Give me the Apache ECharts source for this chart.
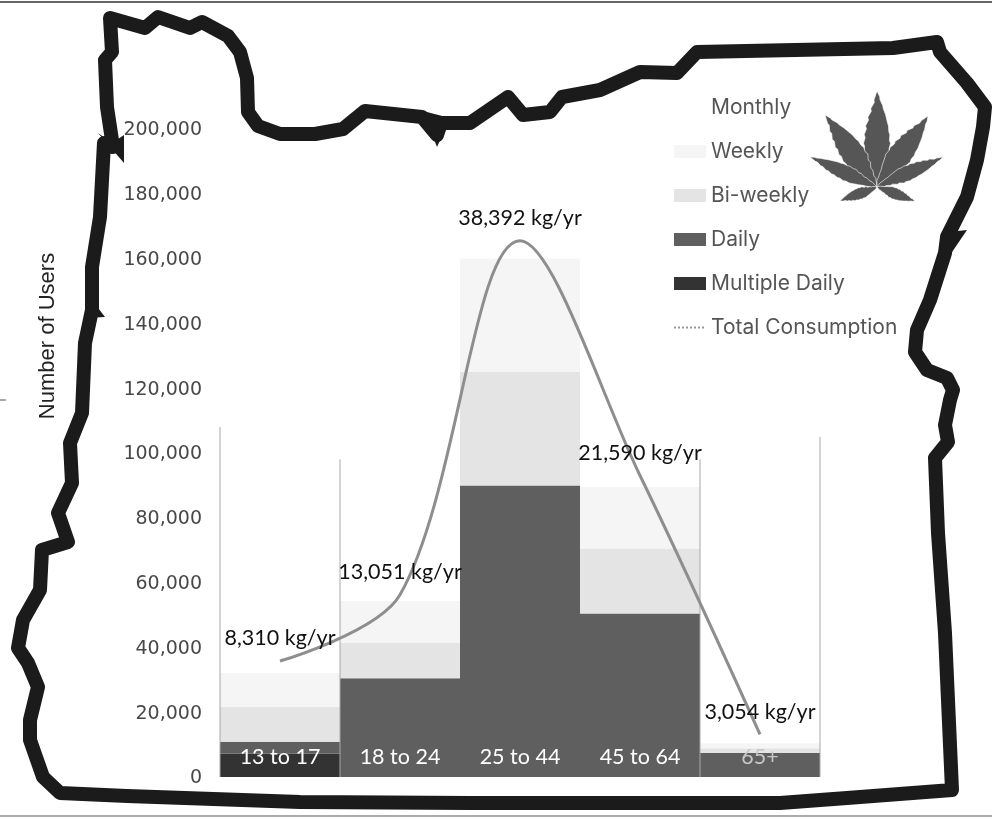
<!DOCTYPE html>
<html>
<head>
<meta charset="utf-8">
<style>html,body{margin:0;padding:0;background:#fff}#c{width:992px;height:819px}</style>
<script src="https://cdn.jsdelivr.net/npm/echarts@6/dist/echarts.min.js"></script>
</head>
<body>
<div id="c"></div>
<script>
const categories = ['13 to 17', '18 to 24', '25 to 44', '45 to 64', '65+'];
const multipleDaily = [7200, 0, 0, 0, 0];
const daily = [3700, 30500, 90000, 50500, 7400];
const biWeekly = [10800, 11000, 35000, 20000, 1500];
const weekly = [10500, 12900, 35000, 19000, 1500];
const monthly = [76000, 44000, 0, 8500, 93000];
const totalConsumption = [8310, 13051, 38392, 21590, 3054];
const columnEdges = [[0, 108000, -1], [1, 98000, -1], [3, 98000, 1], [4, 105000, 1]];

const outline = [[110,18],[145,28],[158,17],[190,28],[202,22],[228,36],[240,52],[247,78],[248,112],[258,126],[280,134],[315,134],[343,129],[365,111],[422,117],[437,135],[441,123],[470,123],[508,97],[523,115],[550,112],[562,97],[600,90],[640,72],[677,73],[697,52],[893,48],[937,42],[940,52],[967,83],[985,107],[983,127],[977,160],[967,197],[947,237],[945,253],[930,300],[917,330],[915,352],[927,370],[947,378],[953,390],[950,400],[945,425],[948,442],[935,458],[938,533],[945,633],[952,790],[847,798],[780,803],[471,803],[300,802],[127,796],[60,793],[43,777],[30,740],[30,720],[38,687],[28,663],[18,648],[23,620],[40,590],[42,550],[68,542],[58,513],[72,483],[70,443],[82,413],[85,343],[92,310],[92,267],[100,217],[104,143],[113,147],[107,107],[105,60],[112,52]];
const spikes = [[[98,133],[124,163],[124,135],[112,143]],[[948,232],[967,230],[948,258]],[[86,318],[105,317],[92,300]],[[106,12],[130,20],[112,30]],[[423,111],[437,147],[450,118]]];
const leafOrigin = [877, 187];
const leafTips = [[877,91,27],[825,115,25],[928,116,25],[810,157,16],[943,157,16],[840,201,12],[915,201,12]];

function leaflet(tip) {
  const [ox, oy] = leafOrigin, dx = tip[0] - ox, dy = tip[1] - oy;
  const nx = -dy / Math.hypot(dx, dy), ny = dx / Math.hypot(dx, dy);
  const profile = [0, .34, .52, .75, .96, 1, .95, .85, .68, .46, .22, 0];
  const pts = [], n = profile.length - 1;
  const side = sgn => {
    const idx = profile.map((_, i) => i);
    if (sgn < 0) idx.reverse();
    idx.forEach(i => {
      const t = i / n, hw = profile[i] * tip[2] / 2;
      pts.push([ox + dx * t + sgn * nx * hw, oy + dy * t + sgn * ny * hw]);
      if (i > 0 && i < n) pts.push([ox + dx * (t + sgn * .03) + sgn * nx * hw * .92, oy + dy * (t + sgn * .03) + sgn * ny * hw * .92]);
    });
  };
  side(1); side(-1);
  return { type: 'polygon', z: 4, shape: { points: pts }, style: { fill: '#565656', stroke: '#fff', lineWidth: .6 } };
}

const barLabel = '#111';
const chart = echarts.init(document.getElementById('c'), null, { renderer: 'canvas' });
const barSeries = (name, data, color) => ({ name, type: 'bar', stack: 'users', data, barWidth: '100%', barGap: 0, itemStyle: { color }, emphasis: { disabled: true } });

chart.setOption({
  animation: false,
  backgroundColor: '#fff',
  grid: { left: 220, right: 172, top: 129, bottom: 42 },
  legend: {
    orient: 'vertical', left: 673, top: 97, padding: 0, itemWidth: 32, itemHeight: 13, itemGap: 23,
    selectedMode: false,
    textStyle: { fontFamily: 'Inter', fontSize: 21, color: '#555' },
    data: [{ name: 'Monthly', icon: 'rect' }, { name: 'Weekly', icon: 'rect' }, { name: 'Bi-weekly', icon: 'rect' }, { name: 'Daily', icon: 'rect' }, { name: 'Multiple Daily', icon: 'rect' },
      { name: 'Total Consumption', itemStyle: { opacity: 0 }, lineStyle: { color: '#999', type: 'dotted', width: 2 } }]
  },
  xAxis: {
    type: 'category', data: categories, z: 10,
    axisLine: { show: false }, axisTick: { show: false },
    axisLabel: { inside: true, margin: 9, fontFamily: 'Lato', fontSize: 21.5, color: v => v === '65+' ? '#c8c8c8' : '#fff' }
  },
  yAxis: [{
    type: 'value', min: 0, max: 200000, interval: 20000,
    name: 'Number of Users', nameLocation: 'middle', nameGap: 161,
    nameTextStyle: { fontFamily: 'Liberation Sans', fontSize: 22, color: '#222', padding: [0, 0, 0, 234] },
    splitLine: { show: false }, axisLine: { show: false }, axisTick: { show: false },
    axisLabel: { margin: 18, verticalAlign: 'top', lineHeight: 3, fontFamily: 'DejaVu Sans', fontSize: 19, color: '#484848' }
  }, { type: 'value', min: 0, max: 46400, show: false }],
  series: [
    barSeries('Multiple Daily', multipleDaily, '#333333'),
    barSeries('Daily', daily, '#5f5f5f'),
    barSeries('Bi-weekly', biWeekly, '#e4e4e4'),
    barSeries('Weekly', weekly, '#f5f5f5'),
    barSeries('Monthly', monthly, '#ffffff'),
    {
      type: 'custom', silent: true, data: columnEdges, z: 3, encode: { x: 0, y: 1 },
      renderItem(params, api) {
        const half = api.size([1, 0])[0] / 2, x = api.coord([api.value(0), 0])[0] + api.value(2) * half;
        return { type: 'line', shape: { x1: x, y1: api.coord([0, api.value(1)])[1], x2: x, y2: api.coord([0, 0])[1] }, style: { stroke: '#a8a8a8', lineWidth: 1 } };
      }
    },
    {
      name: 'Total Consumption', type: 'line', yAxisIndex: 1, data: totalConsumption, smooth: 0.33, z: 5,
      symbol: 'circle', symbolSize: 0.01, showSymbol: true, lineStyle: { color: '#8e8e8e', width: 3 }, itemStyle: { color: '#8e8e8e' },
      label: {
        show: true, position: 'top', distance: 11.5, fontFamily: 'Lato', fontSize: 21.5, color: barLabel,
        formatter: p => p.value.toLocaleString('en-US') + ' kg/yr'
      }
    }
  ],
  graphic: [
    { type: 'polygon', z: 6, silent: true, shape: { points: outline }, style: { fill: 'none', stroke: '#1b1b1b', lineWidth: 14, lineJoin: 'round' } },
    ...spikes.map(points => ({ type: 'polygon', z: 6, silent: true, shape: { points }, style: { fill: '#1b1b1b' } })),
    ...leafTips.map(leaflet),
    { type: 'line', z: 1, shape: { x1: 0, y1: 2, x2: 992, y2: 2 }, style: { stroke: '#666', lineWidth: 2 } },
    { type: 'line', z: 1, shape: { x1: 0, y1: 816, x2: 992, y2: 816 }, style: { stroke: '#aaa', lineWidth: 2 } },
    { type: 'line', z: 1, shape: { x1: 0, y1: 400, x2: 6, y2: 400 }, style: { stroke: '#555', lineWidth: 1 } }
  ]
});
</script>
</body>
</html>
